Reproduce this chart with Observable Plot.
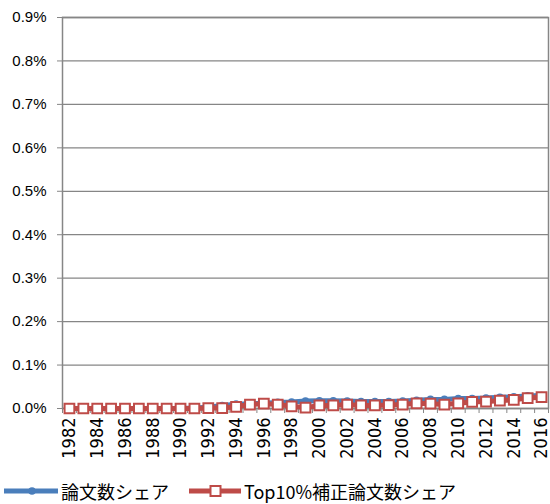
<!DOCTYPE html>
<html>
<head>
<meta charset="utf-8">
<script src="https://cdn.jsdelivr.net/npm/d3@7"></script>
<script src="https://cdn.jsdelivr.net/npm/@observablehq/plot@0.6"></script>
<style>
  body { margin: 0; background: #fff; font-family: Arial, "Liberation Sans", sans-serif; }
  #legend { position: relative; height: 26px; font-family: "Noto Sans CJK JP", sans-serif; font-size: 18px; color: #000; }
  .item { position: absolute; top: 0; display: flex; align-items: center; height: 26px; }
  .item svg { display: block; }
</style>
</head>
<body>
<div id="chart"></div>
<div id="legend"></div>
<script>
const years = [1982,1983,1984,1985,1986,1987,1988,1989,1990,1991,1992,1993,1994,1995,1996,1997,1998,1999,2000,2001,2002,2003,2004,2005,2006,2007,2008,2009,2010,2011,2012,2013,2014,2015,2016];
// 論文数シェア (%)
const shareAll = [0,0,0,0,0,0,0,0,0,0.001,0.003,0.007,0.010,0.011,0.012,0.014,0.015,0.017,0.018,0.018,0.017,0.016,0.016,0.016,0.017,0.019,0.021,0.021,0.023,0.023,0.024,0.026,0.027,0.029,0.030];
// Top10%補正論文数シェア (%)
const shareTop10 = [0,0,0,0,0,0,0,0,0,0,0.001,0.001,0.004,0.009,0.011,0.009,0.005,0.002,0.007,0.007,0.009,0.007,0.007,0.008,0.009,0.012,0.011,0.009,0.012,0.015,0.016,0.018,0.020,0.024,0.026];
const yTicks = [0,0.1,0.2,0.3,0.4,0.5,0.6,0.7,0.8,0.9];
const xLabelYears = [1982,1984,1986,1988,1990,1992,1994,1996,1998,2000,2002,2004,2006,2008,2010,2012,2014,2016];
const seriesNames = ["論文数シェア", "Top10%補正論文数シェア"];
const colors = ["#4A7EBB", "#BE4B48"];

const dataAll = years.map((y, i) => ({year: y, v: shareAll[i]}));
const dataTop = years.map((y, i) => ({year: y, v: shareTop10[i]}));
const boundaries = years.map(y => y - 0.5).concat([years[years.length - 1] + 0.5]);
const gray = "#868686";
const latin = "Arial, 'Liberation Sans', sans-serif";

const chart = Plot.plot({
  width: 550,
  height: 478,
  marginLeft: 62,
  marginRight: 2,
  marginTop: 17,
  marginBottom: 70,
  style: {fontFamily: latin, color: "#000", background: "#fff"},
  x: {domain: [years[0] - 0.5, years[years.length - 1] + 0.5]},
  y: {domain: [0, 0.9]},
  marks: [
    Plot.gridY(yTicks, {stroke: gray, strokeOpacity: 1, strokeWidth: 1.3}),
    Plot.frame({stroke: gray, strokeWidth: 1.5}),
    Plot.axisY({ticks: yTicks, tickFormat: d => d.toFixed(1) + "%", tickSize: 5, tickPadding: 11, fontSize: 15, fontFamily: latin, stroke: gray, label: null}),
    Plot.axisX({ticks: boundaries, tickFormat: () => "", tickSize: 5, stroke: gray, label: null}),
    Plot.axisX({ticks: xLabelYears, tickFormat: d => String(d), tickSize: 0, tickPadding: 9, tickRotate: -90, fontSize: 18, fontFamily: "'Liberation Sans Narrow', 'Arial Narrow', 'DejaVu Sans Condensed', sans-serif", label: null}),
    Plot.line(dataAll, {x: "year", y: "v", stroke: colors[0], strokeWidth: 5}),
    Plot.dot(dataAll, {x: "year", y: "v", r: 3.8, fill: colors[0], stroke: "none"}),
    Plot.line(dataTop, {x: "year", y: "v", stroke: colors[1], strokeWidth: 5}),
    Plot.dot(dataTop, {x: "year", y: "v", symbol: "square", r: 5.5, fill: "#fff", stroke: colors[1], strokeWidth: 2})
  ]
});
document.getElementById("chart").appendChild(chart);

// Legend
const legend = document.getElementById("legend");
const lefts = [3, 188];
seriesNames.forEach((name, i) => {
  const item = document.createElement("div");
  item.className = "item";
  item.style.left = lefts[i] + "px";
  const sw = i === 0
    ? `<svg width="56" height="14"><line x1="1" y1="7" x2="55" y2="7" stroke="${colors[0]}" stroke-width="5"/><circle cx="29" cy="7" r="3.8" fill="${colors[0]}"/></svg>`
    : `<svg width="54" height="14"><line x1="1" y1="7" x2="53" y2="7" stroke="${colors[1]}" stroke-width="5"/><rect x="22.5" y="2" width="10" height="10" fill="#fff" stroke="${colors[1]}" stroke-width="2"/></svg>`;
  item.innerHTML = sw + `<span style="margin-left:2px">${name}</span>`;
  legend.appendChild(item);
});
</script>
</body>
</html>
